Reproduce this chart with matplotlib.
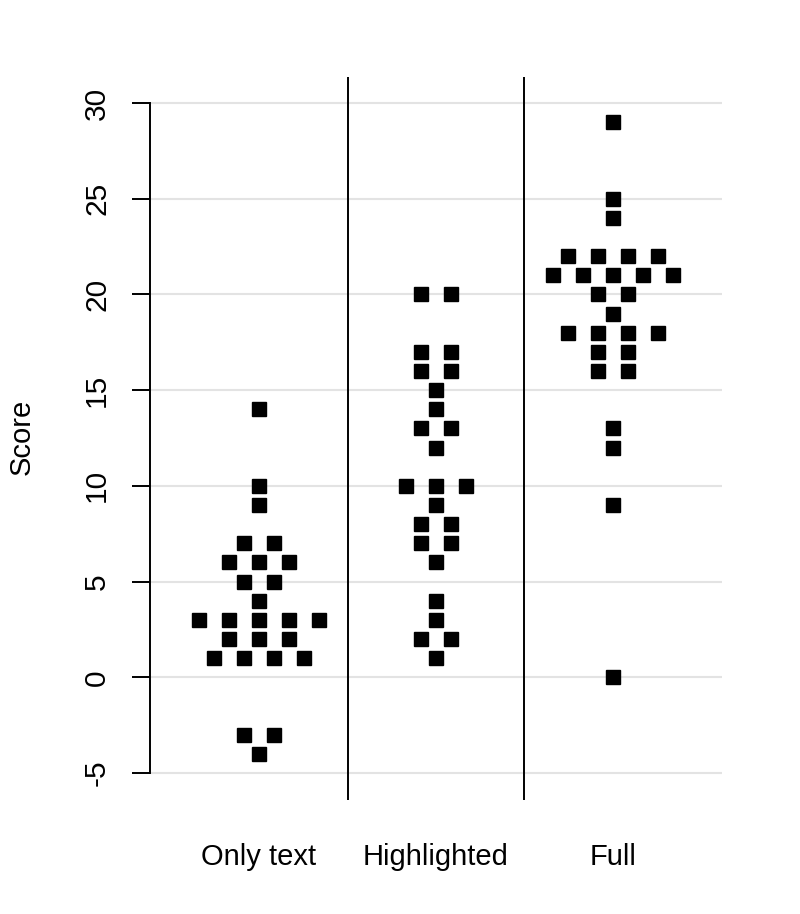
import numpy as np
import matplotlib
matplotlib.use("Agg")
from matplotlib import pyplot as plt

plt.rcParams['font.family'] = ['Liberation Sans', 'DejaVu Sans']

groups = ["Only text", "Highlighted", "Full"]
only_text = [14, 10, 9, 7, 7, 6, 6, 6, 5, 5, 4, 3, 3, 3, 3, 3, 2, 2, 2, 1, 1, 1, 1, -3, -3, -4]
highlighted = [20, 20, 17, 17, 16, 16, 15, 14, 13, 13, 12, 10, 10, 10, 9, 8, 8, 7, 7, 6, 4, 3, 2, 2, 1]
full = [29, 25, 24, 22, 22, 22, 22, 21, 21, 21, 21, 21, 20, 20, 19, 18, 18, 18, 18, 17, 17, 16, 16, 13, 12, 9, 0]
yticks = [-5, 0, 5, 10, 15, 20, 25, 30]

fig = plt.figure(figsize=(8, 9.14), dpi=100)
ax = fig.add_axes([0.1875, 0.1247, 0.715, 0.7911])

# simple swarm: points with the same value are spread sideways around the group centre
step = 0.17
for i, vals in enumerate([only_text, highlighted, full]):
    vals = np.array(vals)
    for v in np.unique(vals):
        n = np.sum(vals == v)
        xs = i + 1 + (np.arange(n) - (n - 1) / 2) * step
        ax.plot(xs, [v] * n, 's', color='black', markersize=9.4, linestyle='none', zorder=3)

for y in yticks:
    ax.axhline(y, color='#e3e3e3', linewidth=1.5, zorder=1)
ax.axvline(1.5, color='black', linewidth=1.4, zorder=2)
ax.axvline(2.5, color='black', linewidth=1.4, zorder=2)

ax.set_xlim(0.384, 3.616)
ax.set_ylim(-6.41, 31.36)

for s in ['top', 'right', 'bottom']:
    ax.spines[s].set_visible(False)
ax.spines['left'].set_bounds(-5, 30)
ax.spines['left'].set_linewidth(1.4)

ax.set_yticks(yticks)
ax.set_yticklabels([str(t) for t in yticks], rotation=90, va='center', fontsize=21.5)
ax.tick_params(axis='y', length=13, width=1.4, pad=15)

ax.set_xticks([1, 2, 3])
ax.set_xticklabels(groups, fontsize=21)
ax.tick_params(axis='x', length=0, pad=31)

fig.text(22 / 800, 1 - 437 / 914, "Score", rotation=90, ha='center', va='center', fontsize=21)

fig.savefig("out.png", dpi=100)
